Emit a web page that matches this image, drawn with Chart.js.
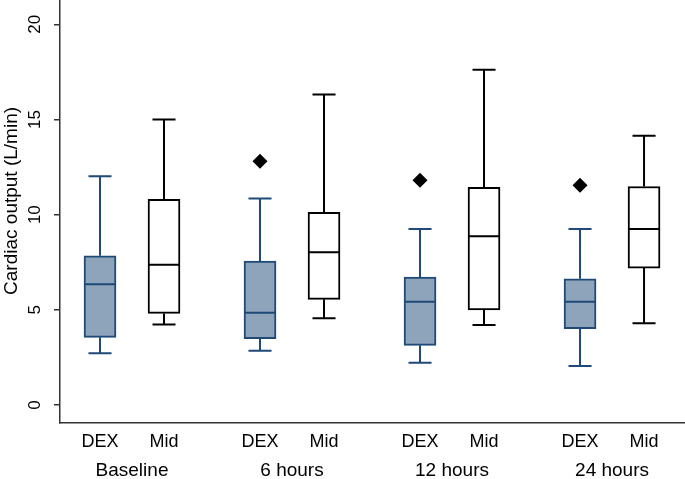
<!DOCTYPE html>
<html>
<head>
<meta charset="utf-8">
<script src="https://cdn.jsdelivr.net/npm/chart.js@4/dist/chart.umd.min.js"></script>
<style>
  body { margin: 0; background: #fff; }
  #wrap { width: 685px; height: 479px; }
</style>
</head>
<body>
<div id="wrap"><canvas id="box-chart"></canvas></div>
<script>
// dados
const groups = ['Baseline', '6 hours', '12 hours', '24 hours'];
const series = ['DEX', 'Mid'];

const dexWhiskLow  = [2.71, 2.85, 2.22, 2.05];
const dexQ1        = [3.55, 3.48, 3.13, 4.01];
const dexMedian    = [6.34, 4.85, 5.42, 5.42];
const dexQ3        = [7.84, 7.56, 6.72, 6.63];
const dexWhiskHigh = [12.02, 10.85, 9.24, 9.24];
const dexOutliers  = [null, 12.81, 11.81, 11.55];

const midWhiskLow  = [4.22, 4.55, 4.20, 4.29];
const midQ1        = [4.81, 5.55, 4.99, 7.19];
const midMedian    = [7.37, 8.03, 8.87, 9.24];
const midQ3        = [10.80, 10.12, 11.44, 11.48];
const midWhiskHigh = [15.00, 16.31, 17.62, 14.14];

const yTicks = [0, 5, 10, 15, 20];

// posição de cada caixa no eixo x (grupo * 2.5 + série)
const GROUP_STEP = 2.5;
const CAP_HALF = 0.18;
const MED_HALF = 0.25;
const pos = (g, s) => g * GROUP_STEP + s;

const dexColor = '#1f4a78';
const dexFill = '#8ea4ba';
const midColor = '#000000';

function boxData(s, q1, q3) {
    return groups.map((_, g) => ({x: pos(g, s), y: [q1[g], q3[g]]}));
}

function whiskerData(s, lo, q1, q3, hi) {
    const pts = [];
    groups.forEach((_, g) => {
        const x = pos(g, s);
        pts.push({x: x, y: lo[g]}, {x: x, y: q1[g]}, {x: x, y: null});
        pts.push({x: x, y: q3[g]}, {x: x, y: hi[g]}, {x: x, y: null});
        pts.push({x: x - CAP_HALF, y: lo[g]}, {x: x + CAP_HALF, y: lo[g]}, {x: x, y: null});
        pts.push({x: x - CAP_HALF, y: hi[g]}, {x: x + CAP_HALF, y: hi[g]}, {x: x, y: null});
    });
    return pts;
}

function medianData(s, med) {
    const pts = [];
    groups.forEach((_, g) => {
        const x = pos(g, s);
        pts.push({x: x - MED_HALF, y: med[g]}, {x: x + MED_HALF, y: med[g]}, {x: x, y: null});
    });
    return pts;
}

// remove o espaço extra que o Chart.js reserva para os rótulos das pontas
function noPadding(scale) {
    scale.paddingTop = 0;
    scale.paddingBottom = 0;
    scale.paddingLeft = 0;
    scale.paddingRight = 0;
}

const lineDefaults = {
    type: 'line',
    pointRadius: 0,
    borderWidth: 2,
    spanGaps: false,
    fill: false,
    tension: 0
};

const xTickValues = [];
const xTickLabels = [];
groups.forEach((_, g) => series.forEach((name, s) => {
    xTickValues.push(pos(g, s));
    xTickLabels.push(name);
}));
const groupTickValues = groups.map((_, g) => pos(g, 0.5));

const X_MIN = -0.625;
const X_MAX = 9.14;
const fontFamily = 'Liberation Sans, Arial, sans-serif';

new Chart(document.getElementById('box-chart').getContext('2d'), {
    type: 'bar',
    data: {
        datasets: [
            {
                label: 'DEX box',
                data: boxData(0, dexQ1, dexQ3),
                backgroundColor: dexFill,
                borderColor: dexColor,
                borderWidth: 2,
                borderSkipped: false,
                barThickness: 32,
                grouped: false,
                order: 2
            },
            {
                label: 'Mid box',
                data: boxData(1, midQ1, midQ3),
                backgroundColor: '#ffffff',
                borderColor: midColor,
                borderWidth: 2,
                borderSkipped: false,
                barThickness: 32,
                grouped: false,
                order: 2
            },
            Object.assign({}, lineDefaults, {
                label: 'DEX whiskers',
                data: whiskerData(0, dexWhiskLow, dexQ1, dexQ3, dexWhiskHigh),
                borderColor: dexColor,
                order: 1
            }),
            Object.assign({}, lineDefaults, {
                label: 'Mid whiskers',
                data: whiskerData(1, midWhiskLow, midQ1, midQ3, midWhiskHigh),
                borderColor: midColor,
                order: 1
            }),
            Object.assign({}, lineDefaults, {
                label: 'DEX median',
                data: medianData(0, dexMedian),
                borderColor: dexColor,
                order: 0
            }),
            Object.assign({}, lineDefaults, {
                label: 'Mid median',
                data: medianData(1, midMedian),
                borderColor: midColor,
                order: 0
            }),
            {
                type: 'scatter',
                label: 'Outliers',
                data: groups.map((_, g) => ({x: pos(g, 0), y: dexOutliers[g]})),
                pointStyle: 'rectRot',
                pointRadius: 7.5,
                backgroundColor: '#000',
                borderColor: '#000',
                borderWidth: 0,
                order: 0
            }
        ]
    },
    options: {
        responsive: true,
        maintainAspectRatio: false,
        animation: false,
        layout: { padding: 0, autoPadding: false },
        plugins: {
            legend: { display: false },
            tooltip: { enabled: false }
        },
        scales: {
            x: {
                type: 'linear',
                position: 'bottom',
                weight: 1,
                min: X_MIN,
                max: X_MAX,
                offset: false,
                grid: { display: false, drawTicks: false },
                border: { display: true, color: '#333', width: 1.5 },
                afterBuildTicks: scale => { scale.ticks = xTickValues.map(v => ({value: v})); },
                afterFit: scale => { scale.height = 30; noPadding(scale); },
                ticks: {
                    autoSkip: false,
                    maxRotation: 0,
                    padding: 8,
                    color: '#000',
                    font: { family: fontFamily, size: 18 },
                    callback: (value, index) => xTickLabels[index]
                }
            },
            x2: {
                type: 'linear',
                position: 'bottom',
                weight: 2,
                min: X_MIN,
                max: X_MAX,
                offset: false,
                grid: { display: false, drawTicks: false },
                border: { display: false },
                afterBuildTicks: scale => { scale.ticks = groupTickValues.map(v => ({value: v})); },
                afterFit: scale => { scale.height = 26; noPadding(scale); },
                ticks: {
                    autoSkip: false,
                    maxRotation: 0,
                    padding: 6,
                    color: '#000',
                    font: { family: fontFamily, size: 19 },
                    callback: (value, index) => groups[index]
                }
            },
            y: {
                type: 'linear',
                position: 'left',
                min: -0.95,
                max: 21.28,
                grid: { drawOnChartArea: false, drawTicks: true, tickLength: 6, color: '#333', lineWidth: 1.5 },
                border: { display: true, color: '#333', width: 1.5 },
                afterBuildTicks: scale => { scale.ticks = yTicks.map(v => ({value: v})); },
                afterFit: scale => { scale.width = 60; noPadding(scale); },
                title: {
                    display: true,
                    // espaços à esquerda sobem um pouco o título, como no original
                    text: '    Cardiac output (L/min)',
                    color: '#000',
                    padding: 0,
                    font: { family: fontFamily, size: 19 }
                },
                ticks: {
                    minRotation: 90,
                    maxRotation: 90,
                    crossAlign: 'center',
                    padding: 9,
                    color: '#000',
                    font: { family: fontFamily, size: 17 }
                }
            }
        }
    }
});
</script>
</body>
</html>
